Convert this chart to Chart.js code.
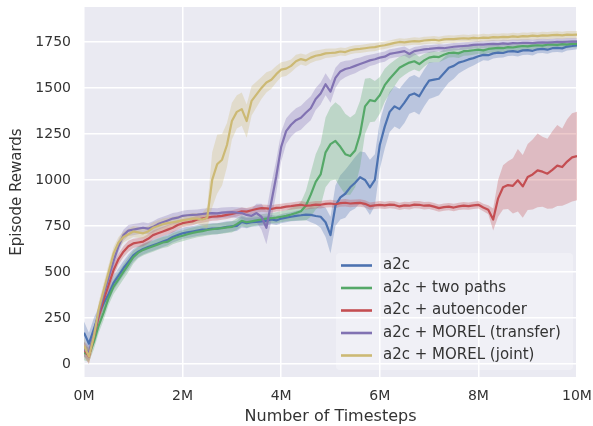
<!DOCTYPE html>
<html>
<head>
<meta charset="utf-8">
<title>Episode Rewards</title>
<script src="https://cdn.jsdelivr.net/npm/chart.js@4.4.1/dist/chart.umd.min.js"></script>
<style>
  html, body { margin: 0; padding: 0; background: #ffffff; }
  #wrap { width: 593px; height: 426px; }
</style>
</head>
<body>
<div id="wrap"><canvas id="chart" width="593" height="426"></canvas></div>
<script>
// Zaman ekseni (milyon adım)
const timesteps = [
  0, 0.1, 0.2, 0.3, 0.4, 0.5, 0.6, 0.7, 0.8, 0.9,
  1, 1.1, 1.2, 1.3, 1.4, 1.5, 1.6, 1.7, 1.8, 1.9,
  2, 2.1, 2.2, 2.3, 2.4, 2.5, 2.6, 2.7, 2.8, 2.9,
  3, 3.1, 3.2, 3.3, 3.4, 3.5, 3.6, 3.7, 3.8, 3.9,
  4, 4.1, 4.2, 4.3, 4.4, 4.5, 4.6, 4.7, 4.8, 4.9,
  5, 5.1, 5.2, 5.3, 5.4, 5.5, 5.6, 5.7, 5.8, 5.9,
  6, 6.1, 6.2, 6.3, 6.4, 6.5, 6.6, 6.7, 6.8, 6.9,
  7, 7.1, 7.2, 7.3, 7.4, 7.5, 7.6, 7.7, 7.8, 7.9,
  8, 8.1, 8.2, 8.3, 8.4, 8.5, 8.6, 8.7, 8.8, 8.9,
  9, 9.1, 9.2, 9.3, 9.4, 9.5, 9.6, 9.7, 9.8, 9.9,
  10
];

const seriesNames = ['a2c', 'a2c + two paths', 'a2c + autoencoder', 'a2c + MOREL (transfer)', 'a2c + MOREL (joint)'];
const seriesColors = ['#4c72b0', '#55a868', '#c44e52', '#8172b2', '#ccb974'];

// Ortalama ödüller
const a2cMean = [
  170, 110, 190, 270, 330, 380, 440, 480, 520, 555,
  590, 610, 625, 635, 645, 655, 665, 675, 690, 700,
  710, 715, 720, 725, 730, 732, 735, 735, 740, 745,
  748, 750, 772, 765, 770, 772, 775, 778, 785, 780,
  790, 795, 800, 805, 808, 812, 810, 804, 800, 770,
  700, 860, 905, 925, 960, 985, 1015, 1000, 960, 1000,
  1190, 1290, 1370, 1400, 1385, 1420, 1460, 1470, 1455, 1500,
  1540, 1545, 1550, 1580, 1610, 1620, 1638, 1645, 1655, 1662,
  1672, 1680, 1678, 1688, 1692, 1690, 1698, 1700, 1696, 1704,
  1706, 1702, 1710, 1712, 1708, 1716, 1718, 1715, 1725, 1728,
  1732
];
const twoPathsMean = [
  60, 50, 120, 210, 280, 360, 420, 460, 500, 540,
  580, 605, 620, 630, 640, 650, 660, 665, 680, 690,
  697, 705, 712, 718, 722, 728, 732, 735, 738, 742,
  745, 760, 778, 770, 775, 780, 785, 790, 792, 795,
  800, 805, 812, 820, 830, 860, 920, 990, 1030, 1150,
  1195, 1212, 1180, 1140, 1130, 1160, 1250, 1400, 1434, 1428,
  1460, 1515, 1550, 1580, 1610, 1625, 1638, 1645, 1630, 1650,
  1665, 1670, 1668, 1680, 1690, 1692, 1688, 1700, 1702, 1705,
  1708, 1704, 1712, 1715, 1718, 1716, 1722, 1720, 1725, 1728,
  1726, 1730, 1732, 1730, 1735, 1736, 1734, 1738, 1736, 1740,
  1740
];
const autoencoderMean = [
  80, 40, 150, 260, 350, 430, 510, 570, 610, 640,
  655, 660, 665, 680, 700, 710, 720, 730, 740, 755,
  765, 770, 775, 785, 790, 795, 800, 802, 805, 810,
  815, 822, 830, 828, 835, 842, 847, 845, 842, 848,
  850, 855, 858, 862, 865, 860, 862, 866, 865, 870,
  872, 868, 874, 876, 872, 874, 875, 870, 858, 862,
  865, 862, 866, 864, 856, 862, 860, 866, 865, 860,
  862, 855, 847, 852, 855, 850, 856, 860, 858, 862,
  865, 850, 838, 785, 900, 960, 972, 968, 998, 965,
  1016, 1030, 1052, 1045, 1034, 1055, 1078, 1070, 1100, 1123,
  1130
];
const transferMean = [
  80, 60, 160, 280, 380, 470, 560, 640, 700, 725,
  730, 735, 740, 735, 745, 760, 770, 780, 790, 795,
  805, 808, 810, 812, 815, 818, 820, 818, 822, 824,
  825, 822, 820, 810, 805, 820, 800, 740, 880, 1020,
  1180, 1265, 1300, 1325, 1338, 1365, 1390, 1440, 1470, 1520,
  1480, 1555, 1590, 1603, 1610, 1620, 1630, 1640, 1650, 1656,
  1665, 1670, 1685, 1690, 1695, 1700, 1685, 1700, 1705, 1710,
  1712, 1715, 1718, 1716, 1720, 1724, 1726, 1728, 1730, 1734,
  1736, 1735, 1738, 1740, 1738, 1742, 1740, 1744, 1743, 1745,
  1745, 1744, 1746, 1748, 1746, 1748, 1750, 1749, 1751, 1752,
  1752
];
const jointMean = [
  100, 40, 150, 300, 400, 500, 600, 660, 690, 705,
  720, 715, 710, 720, 740, 750, 760, 765, 770, 775,
  780, 785, 790, 790, 785, 795, 1000, 1085, 1110, 1190,
  1320, 1370, 1385, 1320, 1430, 1465, 1500, 1530, 1545, 1575,
  1600, 1605, 1620, 1645, 1657, 1650, 1665, 1675, 1680, 1688,
  1690, 1692, 1698, 1695, 1705, 1710, 1712, 1716, 1720, 1722,
  1728, 1732, 1738, 1745, 1750, 1748, 1752, 1755, 1753, 1758,
  1760, 1762, 1758, 1764, 1766, 1765, 1768, 1770, 1768, 1772,
  1770, 1774, 1772, 1776, 1775, 1778, 1776, 1780, 1778, 1782,
  1780, 1784, 1782, 1786, 1784, 1787, 1788, 1786, 1790, 1789,
  1790
];

// Gölge bantların yarı genişliği
const a2cSpread = [
  60, 60, 60, 40, 40, 40, 40, 40, 40, 40,
  35, 30, 30, 30, 30, 30, 30, 30, 30, 30,
  30, 30, 30, 30, 30, 30, 30, 30, 30, 30,
  28, 28, 30, 28, 25, 25, 25, 25, 25, 25,
  25, 25, 25, 28, 28, 30, 40, 45, 60, 80,
  100, 110, 120, 130, 130, 140, 140, 150, 150, 140,
  130, 120, 110, 110, 110, 110, 100, 100, 100, 100,
  100, 95, 90, 85, 80, 70, 60, 50, 45, 40,
  35, 30, 30, 28, 28, 25, 25, 25, 25, 25,
  25, 25, 22, 22, 22, 22, 22, 22, 22, 22,
  22
];
const twoPathsSpread = [
  40, 40, 40, 40, 40, 40, 40, 40, 40, 40,
  35, 30, 30, 30, 30, 30, 30, 30, 30, 30,
  30, 30, 30, 30, 30, 30, 30, 30, 30, 30,
  30, 30, 30, 28, 28, 28, 28, 28, 28, 30,
  30, 30, 35, 40, 50, 80, 120, 150, 170, 190,
  200, 210, 220, 220, 210, 200, 180, 150, 120, 110,
  100, 90, 80, 70, 60, 55, 50, 45, 40, 35,
  30, 30, 28, 28, 25, 25, 25, 25, 25, 25,
  22, 22, 22, 22, 22, 22, 22, 22, 22, 22,
  20, 20, 20, 20, 20, 20, 20, 20, 20, 20,
  20
];
const autoencoderSpread = [
  40, 40, 40, 40, 40, 40, 35, 30, 30, 30,
  25, 25, 25, 25, 25, 25, 25, 25, 25, 25,
  22, 22, 22, 22, 22, 22, 22, 22, 22, 22,
  20, 20, 20, 20, 20, 20, 20, 20, 20, 20,
  20, 20, 20, 20, 20, 20, 20, 20, 20, 20,
  20, 20, 20, 20, 20, 20, 20, 20, 20, 20,
  20, 20, 20, 20, 20, 20, 20, 20, 20, 20,
  20, 20, 20, 20, 20, 20, 20, 20, 20, 20,
  20, 20, 25, 60, 100, 120, 130, 150, 170, 170,
  180, 190, 200, 190, 190, 210, 220, 210, 230, 240,
  240
];
const transferSpread = [
  40, 40, 40, 40, 40, 40, 40, 35, 30, 30,
  30, 30, 30, 30, 30, 30, 30, 30, 30, 30,
  28, 28, 28, 28, 28, 28, 28, 28, 28, 28,
  28, 30, 30, 35, 40, 50, 70, 90, 100, 90,
  80, 70, 65, 65, 65, 65, 65, 60, 60, 60,
  60, 55, 50, 45, 40, 40, 35, 35, 30, 30,
  28, 28, 25, 25, 25, 25, 25, 22, 22, 22,
  20, 20, 20, 20, 20, 20, 20, 20, 20, 20,
  20, 20, 20, 20, 20, 20, 20, 20, 20, 20,
  20, 20, 20, 20, 20, 20, 20, 20, 20, 20,
  20
];
const jointSpread = [
  40, 40, 40, 40, 40, 40, 35, 30, 30, 30,
  30, 30, 30, 30, 30, 30, 30, 30, 30, 30,
  30, 30, 30, 30, 35, 60, 150, 160, 140, 120,
  100, 90, 90, 90, 80, 70, 60, 55, 50, 45,
  40, 40, 35, 35, 30, 30, 30, 28, 28, 25,
  25, 22, 22, 22, 22, 22, 22, 22, 22, 22,
  20, 20, 20, 20, 20, 20, 20, 20, 20, 20,
  20, 20, 20, 20, 20, 20, 20, 20, 20, 20,
  20, 20, 20, 20, 20, 20, 20, 20, 20, 20,
  20, 20, 20, 20, 20, 20, 20, 20, 20, 20,
  20
];

const seriesMeans = [a2cMean, twoPathsMean, autoencoderMean, transferMean, jointMean];
const seriesSpreads = [a2cSpread, twoPathsSpread, autoencoderSpread, transferSpread, jointSpread];

// Eksen etiketleri
const xTickValues = [0, 2, 4, 6, 8, 10];
const xTickLabels = ['0M', '2M', '4M', '6M', '8M', '10M'];
const yTickValues = [0, 250, 500, 750, 1000, 1250, 1500, 1750];
const yTickLabels = ['0', '250', '500', '750', '1000', '1250', '1500', '1750'];

const FONT = 'DejaVu Sans';
const TEXT_COLOR = '#333333';

function withAlpha(hex, a) {
    const n = parseInt(hex.slice(1), 16);
    return `rgba(${(n >> 16) & 255}, ${(n >> 8) & 255}, ${n & 255}, ${a})`;
}

// Bantlar önce (altta), çizgiler sonra (üstte)
const datasets = [];
seriesNames.forEach((name, k) => {
    const mean = seriesMeans[k];
    const spread = seriesSpreads[k];
    datasets.push({
        label: name + ' upper',
        data: timesteps.map((t, i) => ({ x: t, y: mean[i] + spread[i] })),
        fill: '+1',
        backgroundColor: withAlpha(seriesColors[k], 0.3),
        borderWidth: 0,
        pointRadius: 0,
        order: 100 - k
    });
    datasets.push({
        label: name + ' lower',
        data: timesteps.map((t, i) => ({ x: t, y: mean[i] - spread[i] })),
        fill: false,
        borderWidth: 0,
        pointRadius: 0,
        order: 100 - k
    });
});
seriesNames.forEach((name, k) => {
    datasets.push({
        label: name,
        data: timesteps.map((t, i) => ({ x: t, y: seriesMeans[k][i] })),
        borderColor: seriesColors[k],
        borderWidth: 2.2,
        borderJoinStyle: 'round',
        pointRadius: 0,
        fill: false,
        order: 10 - k
    });
});

// Gri çizim alanı arka planı
const plotBackground = {
    id: 'plotBackground',
    beforeDraw(chart) {
        const { ctx, chartArea } = chart;
        ctx.save();
        ctx.fillStyle = '#eaeaf2';
        ctx.fillRect(chartArea.left, chartArea.top, chartArea.width, chartArea.height);
        ctx.restore();
    }
};

// Sağ alttaki lejant
const insideLegend = {
    id: 'insideLegend',
    afterDraw(chart) {
        const { ctx, chartArea } = chart;
        const rowGap = 22.5;
        const boxW = 237;
        const boxH = 117;
        const right = chartArea.right - 4;
        const bottom = chartArea.bottom - 7;
        const left = right - boxW;
        const top = bottom - boxH;
        ctx.save();
        ctx.fillStyle = 'rgba(255, 255, 255, 0.3)';
        ctx.beginPath();
        ctx.roundRect(left, top, boxW, boxH, 4);
        ctx.fill();
        ctx.font = `15px "${FONT}"`;
        ctx.textBaseline = 'middle';
        ctx.textAlign = 'left';
        seriesNames.forEach((name, k) => {
            const y = top + 12.5 + k * rowGap;
            ctx.strokeStyle = seriesColors[k];
            ctx.lineWidth = 2.6;
            ctx.beginPath();
            ctx.moveTo(left + 5, y);
            ctx.lineTo(left + 36, y);
            ctx.stroke();
            ctx.fillStyle = TEXT_COLOR;
            ctx.fillText(name, left + 47, y);
        });
        ctx.restore();
    }
};

new Chart(document.getElementById('chart'), {
    type: 'line',
    data: { datasets },
    options: {
        responsive: false,
        animation: false,
        layout: { padding: { top: 7, right: 16, left: 0, bottom: 0 } },
        plugins: {
            legend: { display: false },
            tooltip: { enabled: false },
            filler: { propagate: false }
        },
        scales: {
            x: {
                type: 'linear',
                min: 0,
                max: 10,
                afterBuildTicks: (axis) => { axis.ticks = xTickValues.map(v => ({ value: v })); },
                afterFit: (axis) => {
                    axis.height = 49;
                    axis.paddingLeft = 0;
                    axis.paddingRight = 0;
                },
                border: { display: false },
                grid: { color: '#ffffff', lineWidth: 1.5, drawTicks: false },
                ticks: {
                    padding: 11,
                    color: TEXT_COLOR,
                    font: { family: FONT, size: 14 },
                    maxRotation: 0,
                    callback: (value, index) => xTickLabels[index]
                },
                title: {
                    display: true,
                    text: 'Number of Timesteps',
                    color: TEXT_COLOR,
                    font: { family: FONT, size: 16 },
                    padding: { top: 0, bottom: 0 }
                }
            },
            y: {
                type: 'linear',
                min: -71,
                max: 1940,
                afterBuildTicks: (axis) => { axis.ticks = yTickValues.map(v => ({ value: v })); },
                afterFit: (axis) => {
                    axis.width = 84;
                    axis.paddingTop = 0;
                    axis.paddingBottom = 0;
                },
                border: { display: false },
                grid: { color: '#ffffff', lineWidth: 1.5, drawTicks: false },
                ticks: {
                    padding: 13,
                    color: TEXT_COLOR,
                    font: { family: FONT, size: 14 },
                    callback: (value, index) => yTickLabels[index]
                },
                title: {
                    display: true,
                    text: 'Episode Rewards',
                    color: TEXT_COLOR,
                    font: { family: FONT, size: 15 },
                    padding: { top: 8, bottom: 0 }
                }
            }
        }
    },
    plugins: [plotBackground, insideLegend]
});
</script>
</body>
</html>
